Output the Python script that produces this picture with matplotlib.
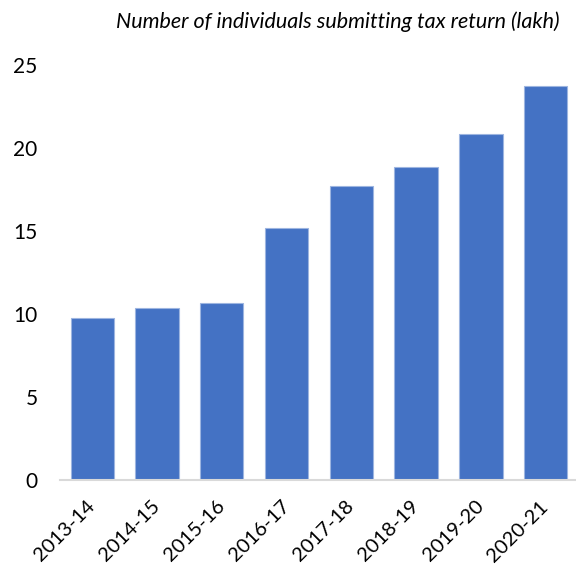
import matplotlib.pyplot as plt

# Data
years = ['2013-14', '2014-15', '2015-16', '2016-17', '2017-18', '2018-19', '2019-20', '2020-21']
filers = [9.77, 10.37, 10.67, 15.2, 17.7, 18.85, 20.85, 23.75]
yticks = [0, 5, 10, 15, 20, 25]

plt.rcParams['font.family'] = ['Lato', 'DejaVu Sans']

fig = plt.figure(figsize=(5.76, 5.67), dpi=100)
ax = fig.add_axes([0.104, 0.1534, 0.896, 0.732])

ax.bar(range(len(years)), filers, width=0.67, color='#4472C4',
       edgecolor='#9DB5E0', linewidth=0.8)

ax.set_xlim(-0.5, 7.47)
ax.set_ylim(0, 25)
ax.set_yticks(yticks)
ax.set_xticks(range(len(years)))
ax.set_xticklabels(years, rotation=45, ha='right', va='center',
                   rotation_mode='anchor', fontsize=14.5)
ax.tick_params(axis='both', length=0, labelsize=15, colors='black')
ax.tick_params(axis='x', labelsize=14.5, pad=17)
ax.tick_params(axis='y', pad=16)

for s in ['top', 'right', 'left']:
    ax.spines[s].set_visible(False)
ax.spines['bottom'].set_color('#D9D9D9')
ax.spines['bottom'].set_linewidth(1.5)

fig.text(0.972, 0.962, 'Number of individuals submitting tax return (lakh)',
         ha='right', va='center', fontsize=15.5, style='italic')

fig.savefig('out.png', dpi=100)
